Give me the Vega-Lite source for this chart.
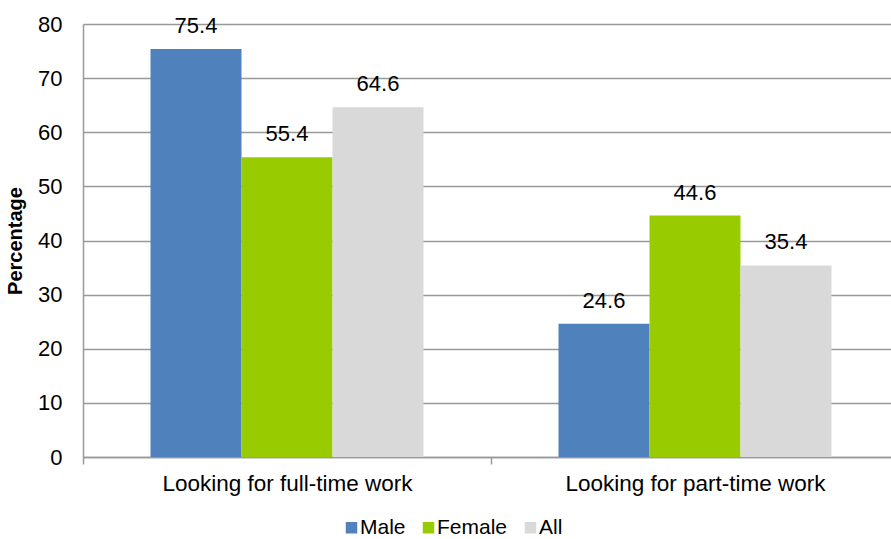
{
  "$schema": "https://vega.github.io/schema/vega-lite/v6.json",
  "width": 816,
  "height": 433,
  "autosize": {"type": "none"},
  "padding": {"left": 83, "top": 24, "right": 0, "bottom": 82},
  "background": "white",
  "config": {
    "font": "Liberation Sans",
    "view": {"stroke": null},
    "axis": {"labelFont": "Liberation Sans", "titleFont": "Liberation Sans"}
  },
  "data": {
    "values": [
      {"category": "Looking for full-time work", "series": "Male", "value": 75.4},
      {"category": "Looking for full-time work", "series": "Female", "value": 55.4},
      {"category": "Looking for full-time work", "series": "All", "value": 64.6},
      {"category": "Looking for part-time work", "series": "Male", "value": 24.6},
      {"category": "Looking for part-time work", "series": "Female", "value": 44.6},
      {"category": "Looking for part-time work", "series": "All", "value": 35.4}
    ]
  },
  "encoding": {
    "x": {
      "field": "category",
      "type": "nominal",
      "scale": {"paddingInner": 0, "paddingOuter": 0},
      "axis": {
        "title": null,
        "labelAngle": 0,
        "labelFontSize": 22.5,
        "labelLimit": 0,
        "labelColor": "#000000",
        "labelPadding": 8,
        "tickBand": "extent",
        "tickSize": 7,
        "tickColor": "#999999",
        "tickWidth": 1.5,
        "domainColor": "#999999",
        "domainWidth": 1.5,
        "grid": false
      }
    },
    "xOffset": {
      "field": "series",
      "type": "nominal",
      "sort": ["Male", "Female", "All"],
      "scale": {"paddingInner": 0, "paddingOuter": 0.742}
    },
    "y": {
      "field": "value",
      "type": "quantitative",
      "scale": {"domain": [0, 80]},
      "axis": {
        "title": "Percentage",
        "titleFontSize": 20,
        "titleFontWeight": "bold",
        "titleColor": "#000000",
        "titlePadding": 12,
        "values": [0, 10, 20, 30, 40, 50, 60, 70, 80],
        "labelFontSize": 22,
        "labelColor": "#000000",
        "labelPadding": 21,
        "ticks": false,
        "grid": true,
        "gridColor": "#999999",
        "gridWidth": 1.5,
        "domainColor": "#999999",
        "domainWidth": 1.5
      }
    }
  },
  "layer": [
    {
      "mark": {"type": "bar"},
      "encoding": {
        "color": {
          "field": "series",
          "type": "nominal",
          "sort": ["Male", "Female", "All"],
          "scale": {"domain": ["Male", "Female", "All"], "range": ["#4F81BD", "#99CC00", "#D9D9D9"]},
          "legend": {
            "title": null,
            "orient": "none",
            "direction": "horizontal",
            "legendX": 258,
            "legendY": 493,
            "symbolType": "square",
            "symbolSize": 132,
            "symbolStrokeWidth": 0,
            "symbolOpacity": 1,
            "labelFontSize": 21,
            "labelColor": "#000000",
            "labelOffset": -2,
            "columnPadding": 12
          }
        }
      }
    },
    {
      "mark": {"type": "text", "fontSize": 22, "color": "#000000", "baseline": "alphabetic", "dy": -16},
      "encoding": {
        "text": {"field": "value", "type": "quantitative", "format": ".1f"}
      }
    }
  ]
}
